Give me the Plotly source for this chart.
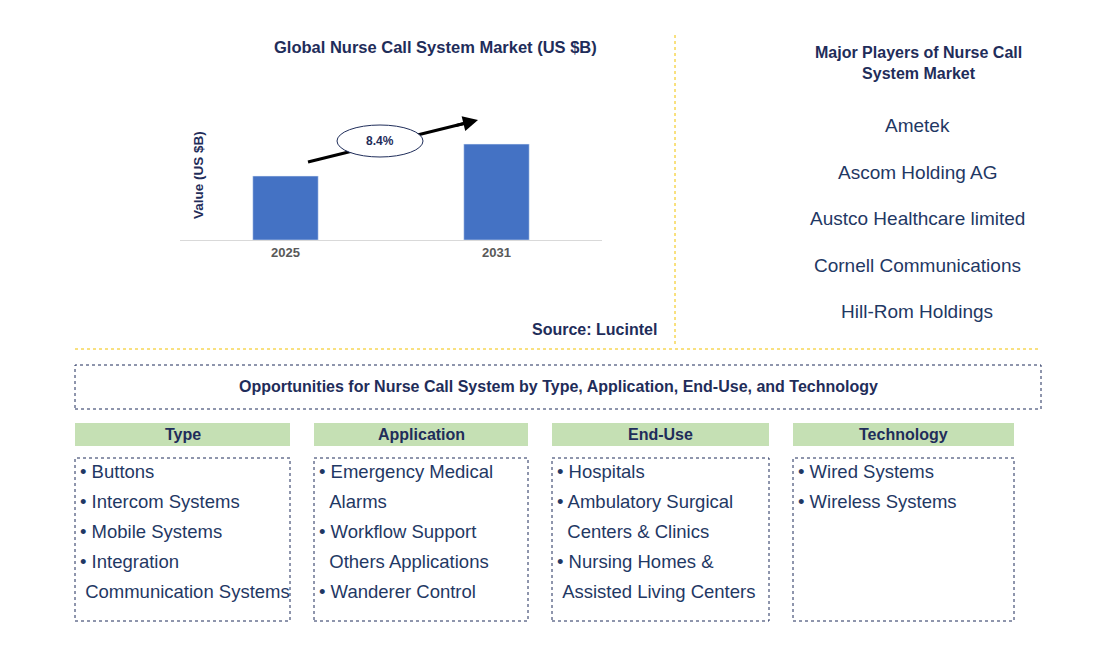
import plotly.graph_objects as go

W, H = 1106, 662
OFF = 8  # page body margin

years = ["2025", "2031"]
values = [1.0, 1.5]
cagr_label = "8.4%"
players = ["Ametek", "Ascom Holding AG", "Austco Healthcare limited",
           "Cornell Communications", "Hill-Rom Holdings"]
headers = ["Type", "Application", "End-Use", "Technology"]
items = [
    ["• Buttons", "• Intercom Systems", "• Mobile Systems", "• Integration",
     " Communication Systems"],
    ["• Emergency Medical", "  Alarms", "• Workflow Support", "  Others Applications",
     "• Wanderer Control"],
    ["• Hospitals", "• Ambulatory Surgical", "  Centers & Clinics", "• Nursing Homes &",
     " Assisted Living Centers"],
    ["• Wired Systems", "• Wireless Systems"],
]

NAVY = "#1f2d5a"
TXT = "#1f3864"
BLUE = "#4472c4"
GOLD = "#f2c200"


def px(x):
    return (x - OFF) / W


def py(y):
    return 1 - (y - OFF) / H


fig = go.Figure()
fig.add_trace(go.Bar(x=years, y=values, marker_color=BLUE, width=0.31))

fig.update_layout(
    width=W, height=H, margin=dict(l=0, r=0, t=0, b=0),
    paper_bgcolor="white", plot_bgcolor="white", showlegend=False,
    font=dict(family="Arial, Liberation Sans", color=NAVY),
    xaxis=dict(domain=[px(180), px(602)], showline=True, linecolor="#d9d9d9",
               tickfont=dict(size=13, color="#595959", weight="bold"),
               ticks="", fixedrange=True),
    yaxis=dict(domain=[py(240), py(100)], range=[0, 2.19], showticklabels=False,
               showgrid=False, zeroline=False, fixedrange=True),
)

shapes = []
ann = []


def text(x, y, s, size=13, bold=False, color=NAVY, xanchor="center"):
    ann.append(dict(x=px(x), y=py(y), xref="paper", yref="paper", text=f"<b>{s}</b>" if bold else s,
                    showarrow=False, font=dict(size=size, color=color),
                    xanchor=xanchor, yanchor="middle"))


text(435, 47, "Global Nurse Call System Market (US $B)", 16.5, True)
ann.append(dict(x=px(198), y=py(175), xref="paper", yref="paper", text="<b>Value (US $B)</b>",
                textangle=-90, showarrow=False, font=dict(size=13.5, color=NAVY),
                xanchor="center", yanchor="middle"))
text(594, 329, "Source: Lucintel", 16, True)

# CAGR arrow (line below the bubble, head on top)
shapes.append(dict(type="line", xref="paper", yref="paper", x0=px(308), y0=py(162),
                   x1=px(470), y1=py(122), line=dict(color="black", width=3)))
shapes.append(dict(type="circle", xref="paper", yref="paper", x0=px(337), x1=px(423),
                   y0=py(157), y1=py(125), fillcolor="white", line=dict(color=NAVY, width=1)))
ann.append(dict(x=px(478), y=py(120), ax=-24, ay=6, xref="paper", yref="paper",
                axref="pixel", ayref="pixel", showarrow=True, arrowhead=2, arrowsize=1,
                arrowwidth=3, arrowcolor="black", text=""))
text(380, 141, cagr_label, 12, True)

# separators
shapes.append(dict(type="line", xref="paper", yref="paper", x0=px(675), x1=px(675),
                   y0=py(35), y1=py(345), line=dict(color=GOLD, width=1, dash="dot")))
shapes.append(dict(type="line", xref="paper", yref="paper", x0=px(75), x1=px(1041),
                   y0=py(349), y1=py(349), line=dict(color=GOLD, width=1, dash="dot")))

# players
text(918, 63, "Major Players of Nurse Call<br>System Market", 16, True)
for i, p in enumerate(players):
    text(917, 126 + i * 46.5, p, 19, color=TXT)

# opportunities
shapes.append(dict(type="rect", xref="paper", yref="paper", x0=px(75), x1=px(1041),
                   y0=py(409), y1=py(365), line=dict(color=NAVY, width=1, dash="dot")))
text(558, 387, "Opportunities for Nurse Call System by Type, Application, End-Use, and Technology", 16, True)

cols = [(75, 290), (314, 528), (552, 769), (793, 1014)]
for (x0, x1), h, its in zip(cols, headers, items):
    shapes.append(dict(type="rect", xref="paper", yref="paper", x0=px(x0), x1=px(x1),
                       y0=py(446), y1=py(423), fillcolor="#c5e0b4", line=dict(width=0)))
    text((x0 + x1) / 2, 434, h, 16, True)
    shapes.append(dict(type="rect", xref="paper", yref="paper", x0=px(x0), x1=px(x1),
                       y0=py(621), y1=py(458), line=dict(color=NAVY, width=1, dash="dot")))
    for j, it in enumerate(its):
        text(x0 + 3, 471 + j * 30, it.replace(" ", "&nbsp;", 2) if it.startswith(" ") else it,
             18.5, color=TXT, xanchor="left")

fig.update_layout(shapes=shapes, annotations=ann)
fig.write_html("out.html")
